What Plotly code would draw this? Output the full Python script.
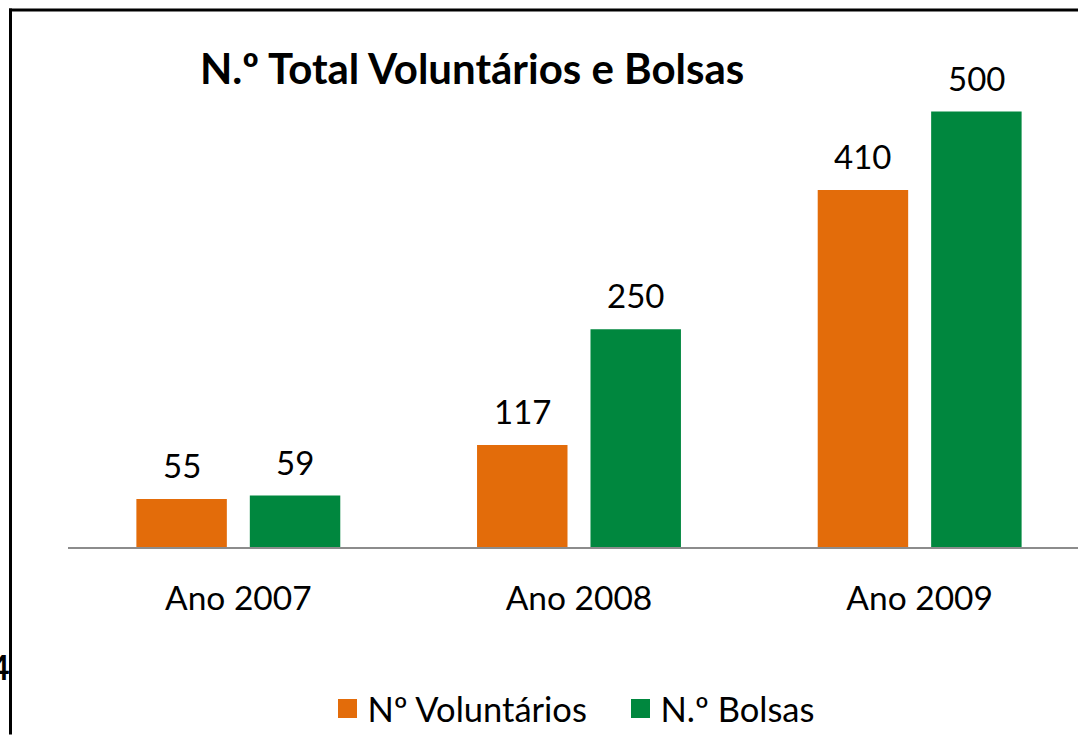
import plotly.graph_objects as go

categories = ["Ano 2007", "Ano 2008", "Ano 2009"]
voluntarios = [55, 117, 410]
bolsas = [59, 250, 500]
series_names = ["Nº Voluntários", "N.º Bolsas"]
colors = ["#E36C0A", "#00873E"]
title_text = "N.º Total Voluntários e Bolsas"

W, H = 1078, 738
ML, MR, MT, MB = 68, 0, 60, 187
plot_w = W - ML - MR
plot_h = H - MT - MB
FONT = "Lato"


def px_x(p):
    return (p - ML) / plot_w


def px_y(p):
    return (MT + plot_h - p) / plot_h


fig = go.Figure()
for name, vals, col in zip(series_names, [voluntarios, bolsas], colors):
    fig.add_trace(go.Bar(x=categories, y=vals, name=name, marker=dict(color=col, line=dict(width=0)),
                         showlegend=False, hoverinfo="x+y"))
# legend entries with larger square symbols
for name, col in zip(series_names, colors):
    fig.add_trace(go.Scatter(x=[None], y=[None], mode="markers", name=name,
                             marker=dict(symbol="square", size=16, color=col, line=dict(color=col, width=3))))

# value labels above bars
shift = 56.75
for vals, sx in [(voluntarios, -shift), (bolsas, shift)]:
    for c, v in zip(categories, vals):
        fig.add_annotation(x=c, y=v, text=str(v), showarrow=False, xshift=sx, yshift=12,
                           yanchor="bottom", font=dict(family=FONT, size=33, color="#000000"))

# title
fig.add_annotation(xref="paper", yref="paper", x=px_x(471.5), y=px_y(68),
                   text="<b>" + title_text + "</b>", showarrow=False, xanchor="center", yanchor="middle",
                   font=dict(family=FONT, size=42, color="#000000"))

# partial slide number at left edge
fig.add_annotation(xref="paper", yref="paper", x=px_x(12), y=px_y(671),
                   text="<b>4</b>", showarrow=False, xanchor="right", yanchor="middle",
                   font=dict(family=FONT, size=34, color="#000000"))

# frame lines (slide border)
fig.add_shape(type="line", xref="paper", yref="paper", x0=px_x(10.5), x1=px_x(10.5), y0=px_y(8), y1=px_y(740),
              line=dict(color="#000000", width=3))
fig.add_shape(type="line", xref="paper", yref="paper", x0=px_x(9), x1=px_x(1080), y0=px_y(9.5), y1=px_y(9.5),
              line=dict(color="#000000", width=3))

fig.update_layout(
    width=W, height=H,
    margin=dict(l=ML, r=MR, t=MT, b=MB),
    paper_bgcolor="#ffffff", plot_bgcolor="#ffffff",
    barmode="group", bargap=0.334, bargroupgap=0.2026,
    font=dict(family=FONT, size=32, color="#000000"),
    showlegend=True,
    legend=dict(orientation="h", x=px_x(327.5), xanchor="left", y=px_y(714), yanchor="middle",
                entrywidth=248, entrywidthmode="pixels",
                font=dict(family=FONT, size=34.5, color="#000000"), itemclick=False),
    xaxis=dict(range=[-0.5, 2.5 - 12 / 341], showgrid=False, zeroline=False, showline=True,
               linecolor="#8C8C8C", linewidth=2, ticks="", ticklabelstandoff=21,
               tickfont=dict(family=FONT, size=33.5, color="#000000")),
    yaxis=dict(range=[0, plot_h / 0.878], showgrid=False, zeroline=False, showline=False,
               showticklabels=False, ticks=""),
)

fig.write_html("out.html", config={"displayModeBar": False},
               post_script="document.body.style.margin='0';")
